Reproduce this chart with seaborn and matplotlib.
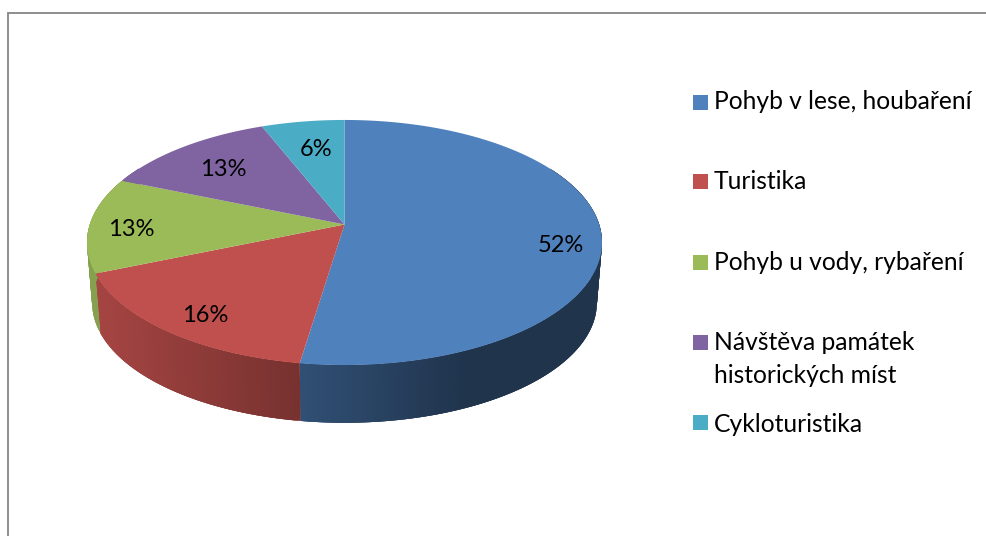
# -*- coding: utf-8 -*-
import numpy as np
import seaborn as sns
import matplotlib.pyplot as plt
from matplotlib.patches import Rectangle

# data
categories = ['Pohyb v lese, houbaření', 'Turistika', 'Pohyb u vody, rybaření',
              'Návštěva památek\nhistorických míst', 'Cykloturistika']
shares = [52.4, 16.3, 12.6, 12.7, 6.0]
colors = ['#4F81BD', '#C0504D', '#9BBB59', '#8064A2', '#4BACC6']

# layout, in pixels of the 987x536 picture
CX, CY = 344.5, 224.5       # apex of the pie
A, B, P = 254.7, 119.9, 0.147  # disc size and perspective
DEPTH = 60.5
BOTTOM_SCALE = 0.98
STEP = 0.5
label_xy = [(561, 246), (205, 315), (131, 229), (223, 169), (316, 150)]
swatch_y = [102, 181, 262, 342, 422]
baseline_y = [109, 189, 270, 383, 432]

sns.set_theme(style='white')
plt.rcParams['font.family'] = ['Lato', 'DejaVu Sans']
palette = sns.color_palette(colors)


def project(angle, scale=1.0, drop=0.0):
    # angle in degrees clockwise from the top of the disc
    t = np.radians(angle)
    u, v = np.sin(t), np.cos(t)
    w = 1 + P * v
    return CX + scale * A * u / w, CY + drop - scale * B * v / w


def shade(x):
    # the wall darkens from left to right and stays dark after that
    return np.interp(x, [97, 300, 470], [0.86, 0.62, 0.40])


fig = plt.figure(figsize=(9.87, 5.36), dpi=100)
ax = fig.add_axes([0, 0, 1, 1])
ax.set_xlim(0, 987)
ax.set_ylim(536, 0)
ax.axis('off')

# chart frame, cut off at the right and the bottom
ax.plot([7.5, 7.5, 987], [536, 12.5, 12.5], color='#868686', lw=1.3,
        solid_joinstyle='miter', clip_on=False)

edges = np.concatenate([[0], np.cumsum(shares)]) / np.sum(shares) * 360

# side wall, thin strips for the gradient, each one runs under the next
# so no seams show
for i, color in enumerate(palette):
    start = max(edges[i], 60)
    stop = min(edges[i + 1], 300)
    if start >= stop:
        continue
    for a0 in np.arange(start, stop, STEP):
        a1 = min(a0 + 3 * STEP, stop)
        arc = np.linspace(a0, a1, 5)
        xt, yt = project(arc)
        xb, yb = project(arc, BOTTOM_SCALE, DEPTH)
        strip = np.array(color) * shade(xt[0])
        ax.fill(np.r_[xt, xb[::-1]], np.r_[yt, yb[::-1]],
                color=tuple(strip), lw=0)

# top face
for i, color in enumerate(palette):
    angles = np.linspace(edges[i], edges[i + 1], 200)
    xs, ys = project(angles)
    ax.fill(np.r_[CX, xs], np.r_[CY, ys], color=color, lw=0)

# percentages
for share, (x, y) in zip(shares, label_xy):
    ax.text(x, y, '{0:.0f}%'.format(share), fontsize=17, color='black',
            ha='center', va='center')

# legend
for name, color, ys, yb in zip(categories, palette, swatch_y, baseline_y):
    ax.add_patch(Rectangle((693, ys - 7.5), 15, 15, color=color, lw=0))
    ax.text(714, yb, name, fontsize=17.7, color='black', ha='left',
            va='baseline', linespacing=1.5)

fig.savefig('out.png', dpi=100)
